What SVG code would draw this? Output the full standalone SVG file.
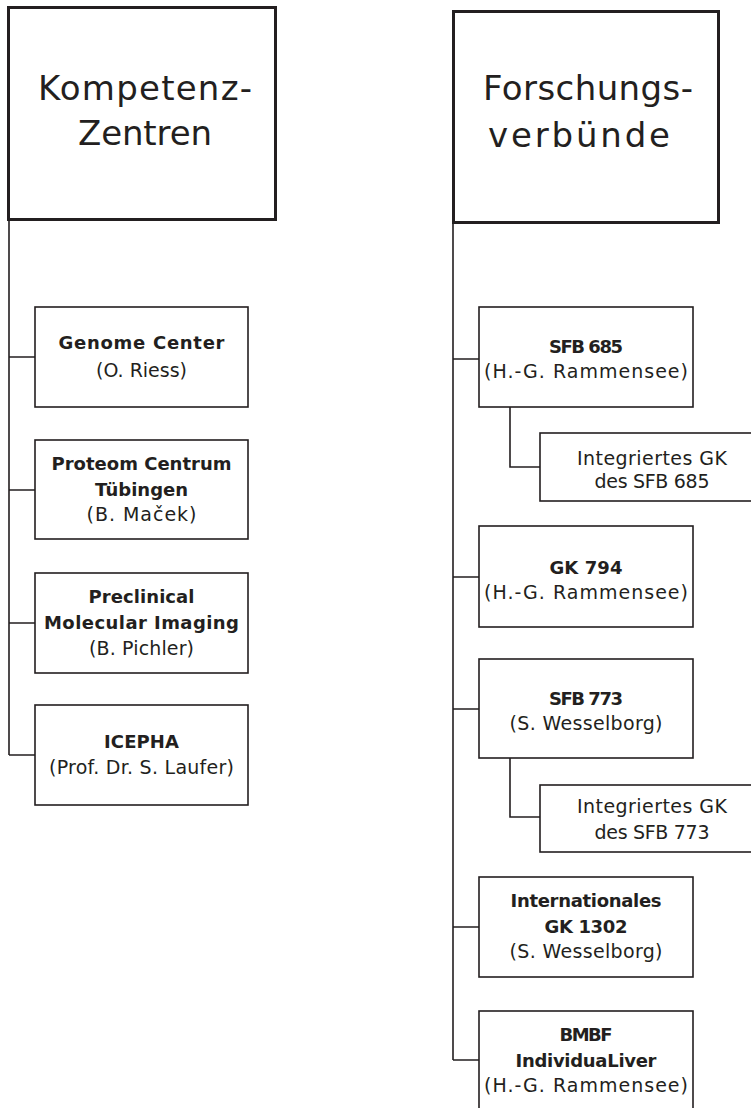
<svg xmlns="http://www.w3.org/2000/svg" width="751" height="1108" viewBox="0 0 751 1108">
<style>
.main{fill:#fff;stroke:#231f20;stroke-width:3}
.box{fill:#fff;stroke:#231f20;stroke-width:1.6}
.con{fill:none;stroke:#231f20;stroke-width:1.6}
text{font-family:"DejaVu Sans",sans-serif;fill:#231f20;text-anchor:middle}
.t{font-size:34px}
.b{font-size:18px;font-weight:bold}
.r{font-size:19px}
</style>
<rect width="751" height="1108" fill="#fff"/>
<g id="connectors">
<path class="con" d="M9 220 V755 M9 357 H35 M9 490 H35 M9 623 H35 M9 755 H35"/>
<path class="con" d="M453 223 V1060 M453 359 H479 M453 577 H479 M453 709 H479 M453 927 H479 M453 1060 H479"/>
<path class="con" d="M510 407 V467 H540 M510 758 V817 H540"/>
</g>
<g id="kompetenz">
<rect class="main" x="8.5" y="7.5" width="267" height="212"/>
<text class="t" x="145" y="100" textLength="214" lengthAdjust="spacing">Kompetenz-</text>
<text class="t" x="145" y="145" textLength="134" lengthAdjust="spacing">Zentren</text>
</g>
<g id="genome">
<rect class="box" x="35" y="307" width="213" height="100"/>
<text class="b" x="141.5" y="349" textLength="166" lengthAdjust="spacing">Genome Center</text>
<text class="r" x="141.5" y="377" textLength="91" lengthAdjust="spacing">(O. Riess)</text>
</g>
<g id="proteom">
<rect class="box" x="35" y="440" width="213" height="99"/>
<text class="b" x="141.5" y="470" textLength="180" lengthAdjust="spacing">Proteom Centrum</text>
<text class="b" x="141.5" y="496" textLength="93" lengthAdjust="spacing">Tübingen</text>
<text class="r" x="141.5" y="521" textLength="110" lengthAdjust="spacing">(B. Maček)</text>
</g>
<g id="preclinical">
<rect class="box" x="35" y="573" width="213" height="100"/>
<text class="b" x="141.5" y="603" textLength="106" lengthAdjust="spacing">Preclinical</text>
<text class="b" x="141.5" y="629" textLength="195" lengthAdjust="spacing">Molecular Imaging</text>
<text class="r" x="141.5" y="655" textLength="105" lengthAdjust="spacing">(B. Pichler)</text>
</g>
<g id="icepha">
<rect class="box" x="35" y="705" width="213" height="100"/>
<text class="b" x="141.5" y="748" textLength="75" lengthAdjust="spacing">ICEPHA</text>
<text class="r" x="141.5" y="774" textLength="185" lengthAdjust="spacing">(Prof. Dr. S. Laufer)</text>
</g>
<g id="forschung">
<rect class="main" x="453.5" y="11.5" width="265" height="211"/>
<text class="t" x="588" y="100" textLength="210" lengthAdjust="spacing">Forschungs-</text>
<text class="t" x="579" y="147" textLength="182" lengthAdjust="spacing">verbünde</text>
</g>
<g id="sfb685">
<rect class="box" x="479" y="307" width="214" height="100"/>
<text class="b" x="586" y="353" textLength="74" lengthAdjust="spacing">SFB 685</text>
<text class="r" x="586" y="378" textLength="204" lengthAdjust="spacing">(H.-G. Rammensee)</text>
</g>
<g id="gk685">
<rect class="box" x="540" y="433" width="224" height="68"/>
<text class="r" x="652" y="465" textLength="150" lengthAdjust="spacing">Integriertes GK</text>
<text class="r" x="652" y="488" textLength="115" lengthAdjust="spacing">des SFB 685</text>
</g>
<g id="gk794">
<rect class="box" x="479" y="526" width="214" height="101"/>
<text class="b" x="586" y="574" textLength="73" lengthAdjust="spacing">GK 794</text>
<text class="r" x="586" y="599" textLength="204" lengthAdjust="spacing">(H.-G. Rammensee)</text>
</g>
<g id="sfb773">
<rect class="box" x="479" y="659" width="214" height="99"/>
<text class="b" x="586" y="705" textLength="74" lengthAdjust="spacing">SFB 773</text>
<text class="r" x="586" y="730" textLength="153" lengthAdjust="spacing">(S. Wesselborg)</text>
</g>
<g id="gk773">
<rect class="box" x="540" y="785" width="224" height="67"/>
<text class="r" x="652" y="813" textLength="150" lengthAdjust="spacing">Integriertes GK</text>
<text class="r" x="652" y="839" textLength="115" lengthAdjust="spacing">des SFB 773</text>
</g>
<g id="gk1302">
<rect class="box" x="479" y="877" width="214" height="100"/>
<text class="b" x="586" y="907" textLength="151" lengthAdjust="spacing">Internationales</text>
<text class="b" x="586" y="933" textLength="83" lengthAdjust="spacing">GK 1302</text>
<text class="r" x="586" y="958" textLength="153" lengthAdjust="spacing">(S. Wesselborg)</text>
</g>
<g id="bmbf">
<rect class="box" x="479" y="1011" width="214" height="110"/>
<text class="b" x="586" y="1041" textLength="53" lengthAdjust="spacing">BMBF</text>
<text class="b" x="586" y="1067" textLength="141" lengthAdjust="spacing">IndividuaLiver</text>
<text class="r" x="586" y="1092" textLength="204" lengthAdjust="spacing">(H.-G. Rammensee)</text>
</g>
</svg>
